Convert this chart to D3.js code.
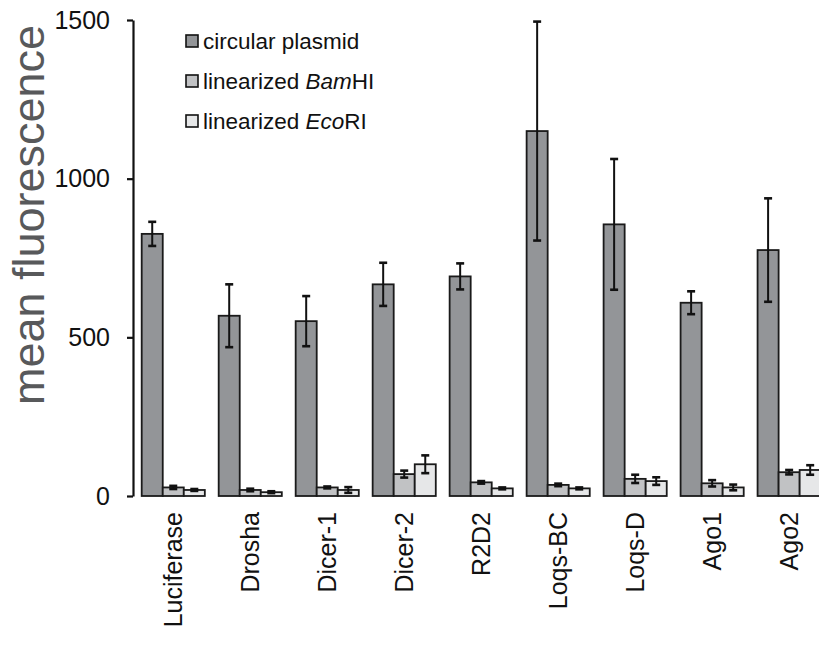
<!DOCTYPE html>
<html>
<head>
<meta charset="utf-8">
<script src="https://cdn.jsdelivr.net/npm/d3@7"></script>
<style>
  body { margin: 0; background: #fff; }
  svg { display: block; font-family: Arial, "Liberation Sans", sans-serif; }
</style>
</head>
<body>
<div id="chart"></div>
<script>
// data
const genes = ["Luciferase", "Drosha", "Dicer-1", "Dicer-2", "R2D2", "Loqs-BC", "Loqs-D", "Ago1", "Ago2"];
const seriesNames = ["circular", "bamHI", "ecoRI"];
const circularMean = [826, 568, 551, 667, 692, 1150, 856, 609, 775];
const circularErr = [38, 99, 79, 68, 41, 345, 206, 36, 163];
const bamHIMean = [27, 19, 27, 69, 43, 35, 54, 40, 75];
const bamHIErr = [5, 4, 3, 11, 4, 4, 13, 10, 7];
const ecoRIMean = [19, 12, 19, 100, 24, 24, 47, 27, 82];
const ecoRIErr = [3, 3, 9, 28, 3, 3, 12, 9, 15];
const yTicks = [0, 500, 1000, 1500];

const colors = { circular: "#939598", bamHI: "#c1c2c4", ecoRI: "#e6e7e8" };

const width = 819, height = 645;
const axisX = 133, yTop = 20, yBottom = 496;

const svg = d3.select("#chart").append("svg")
  .attr("width", width)
  .attr("height", height);

const x = d3.scaleBand()
  .domain(genes)
  .range([axisX, 829.4])
  .paddingInner(0.18)
  .paddingOuter(0.113);

const xSub = d3.scaleBand()
  .domain(seriesNames)
  .range([0, x.bandwidth()]);

const y = d3.scaleLinear()
  .domain([0, 1500])
  .range([yBottom, yTop]);

const rows = genes.map((g, i) => ({
  gene: g,
  values: [
    { key: "circular", mean: circularMean[i], err: circularErr[i] },
    { key: "bamHI", mean: bamHIMean[i], err: bamHIErr[i] },
    { key: "ecoRI", mean: ecoRIMean[i], err: ecoRIErr[i] }
  ]
}));

// y axis
const yAxis = svg.append("g")
  .attr("transform", "translate(" + axisX + ",0)")
  .call(d3.axisLeft(y).tickValues(yTicks).tickFormat(d3.format("d"))
    .tickSize(6).tickPadding(17).tickSizeOuter(0));
yAxis.select(".domain").attr("stroke", "#111").attr("stroke-width", 2.2);
yAxis.selectAll(".tick line").attr("stroke", "#111").attr("stroke-width", 2.2);
yAxis.selectAll(".tick text")
  .attr("font-size", 25)
  .attr("fill", "#111")
  .attr("font-family", "Arial, 'Liberation Sans', sans-serif");

svg.append("text")
  .attr("transform", "translate(44," + 215 + ") rotate(-90)")
  .attr("text-anchor", "middle")
  .attr("font-size", 45)
  .attr("fill", "#58595b")
  .text("mean fluorescence");

// bars
const groups = svg.selectAll(".grp")
  .data(rows)
  .enter()
  .append("g")
  .attr("class", "grp")
  .attr("transform", d => "translate(" + x(d.gene) + ",0)");

groups.selectAll("rect")
  .data(d => d.values)
  .enter()
  .append("rect")
  .attr("x", d => xSub(d.key))
  .attr("y", d => y(d.mean))
  .attr("width", xSub.bandwidth())
  .attr("height", d => y(0) - y(d.mean))
  .attr("fill", d => colors[d.key])
  .attr("stroke", "#1a1a1a")
  .attr("stroke-width", 1.8);

// error bars
const capHalf = 4;
const err = groups.selectAll(".err")
  .data(d => d.values)
  .enter()
  .append("g")
  .attr("class", "err")
  .attr("stroke", "#111")
  .attr("stroke-width", 2);

err.append("line")
  .attr("x1", d => xSub(d.key) + xSub.bandwidth() / 2)
  .attr("x2", d => xSub(d.key) + xSub.bandwidth() / 2)
  .attr("y1", d => y(d.mean - d.err))
  .attr("y2", d => y(d.mean + d.err));
err.append("line")
  .attr("x1", d => xSub(d.key) + xSub.bandwidth() / 2 - capHalf)
  .attr("x2", d => xSub(d.key) + xSub.bandwidth() / 2 + capHalf)
  .attr("y1", d => y(d.mean + d.err))
  .attr("y2", d => y(d.mean + d.err))
  .attr("stroke-width", 2.6);
err.append("line")
  .attr("x1", d => xSub(d.key) + xSub.bandwidth() / 2 - capHalf)
  .attr("x2", d => xSub(d.key) + xSub.bandwidth() / 2 + capHalf)
  .attr("y1", d => y(d.mean - d.err))
  .attr("y2", d => y(d.mean - d.err))
  .attr("stroke-width", 2.6);

// category labels
svg.selectAll(".cat")
  .data(genes)
  .enter()
  .append("text")
  .attr("class", "cat")
  .attr("transform", d => "translate(" + (x(d) + x.bandwidth() / 2) + "," + 512 + ") rotate(-90)")
  .attr("text-anchor", "end")
  .attr("dy", "0.35em")
  .attr("font-size", 25)
  .attr("fill", "#111")
  .text(d => d);

// legend
const legendItems = [
  { key: "circular", parts: [["circular plasmid", "normal"]] },
  { key: "bamHI", parts: [["linearized ", "normal"], ["Bam", "italic"], ["HI", "normal"]] },
  { key: "ecoRI", parts: [["linearized ", "normal"], ["Eco", "italic"], ["RI", "normal"]] }
];

const legend = svg.append("g").attr("transform", "translate(186,41)");
const li = legend.selectAll("g")
  .data(legendItems)
  .enter()
  .append("g")
  .attr("transform", (d, i) => "translate(0," + (i * 40) + ")");

li.append("rect")
  .attr("x", 0)
  .attr("y", -6)
  .attr("width", 12)
  .attr("height", 12)
  .attr("fill", d => colors[d.key])
  .attr("stroke", "#111")
  .attr("stroke-width", 1.6);

li.append("text")
  .attr("x", 17)
  .attr("dy", "0.36em")
  .attr("font-size", 22.5)
  .attr("fill", "#111")
  .each(function(d) {
    const t = d3.select(this);
    d.parts.forEach(p => {
      t.append("tspan").attr("font-style", p[1]).text(p[0]);
    });
  });
</script>
</body>
</html>
